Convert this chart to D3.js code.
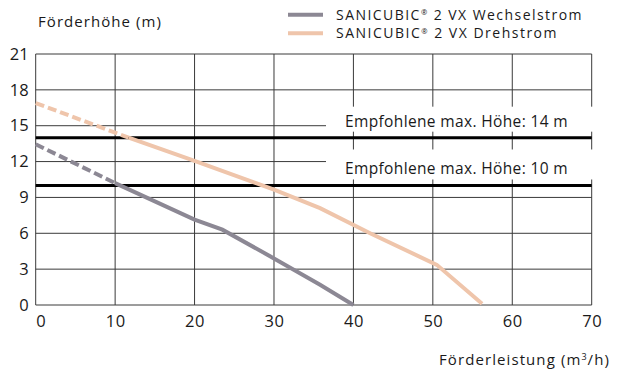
<!DOCTYPE html>
<html><head><meta charset="utf-8">
<script src="https://cdn.jsdelivr.net/npm/d3@7/dist/d3.min.js"></script>
<style>body{margin:0;background:#fff}svg{display:block}text{font-family:"Open Sans",sans-serif;fill:#1a1a1a}</style>
</head><body>
<script>
// Data
const xTicks = [0, 10, 20, 30, 40, 50, 60, 70];
const yTicks = [0, 3, 6, 9, 12, 15, 18, 21];
const wechselX = [0, 10, 20, 23.5, 30, 35.8, 40];
const wechselY = [13.45, 10.2, 7.14, 6.3, 3.9, 1.7, 0];
const wechselDashedUntil = 10;
const drehX = [0, 11.7, 20, 30, 35.8, 42.1, 50.5, 56.2];
const drehY = [16.9, 14.0, 12.05, 9.66, 8.1, 6.0, 3.36, 0.1];
const drehDashedUntil = 11.7;
const refValues = [14, 10];
const refLabels = ["Empfohlene max. Höhe: 14 m", "Empfohlene max. Höhe: 10 m"];
const seriesBrand = ["SANICUBIC", "SANICUBIC"];
const seriesRest = [" 2 VX Wechselstrom", " 2 VX Drehstrom"];
const colors = ["#8c8894", "#efc5ab"];

const W = 618, H = 370;
const svg = d3.select("body").append("svg").attr("width", W).attr("height", H);
const x = d3.scaleLinear().domain([0, 70]).range([35.7, 591.7]);
const y = d3.scaleLinear().domain([0, 21]).range([305, 54]);

// stretch text horizontally (letter-spacing) to match the wide reference font
function fit(sel, target) {
  const node = sel.node();
  const n = node.textContent.length;
  const len = node.getComputedTextLength();
  sel.attr("letter-spacing", ((target - len) / n).toFixed(3));
  return sel;
}

// grid
const g = svg.append("g");
g.selectAll("line.v").data(xTicks).join("line")
  .attr("x1", d => x(d)).attr("x2", d => x(d)).attr("y1", y(0)).attr("y2", y(21))
  .attr("stroke", "#3a3a3a").attr("stroke-width", 1);
g.selectAll("line.h").data(yTicks).join("line")
  .attr("x1", x(0)).attr("x2", x(70)).attr("y1", d => y(d)).attr("y2", d => y(d))
  .attr("stroke", "#3a3a3a").attr("stroke-width", 1);

// axes labels
const xAxis = d3.axisBottom(x).tickValues(xTicks).tickSize(0).tickPadding(10);
svg.append("g").attr("transform", `translate(0,${y(0)})`).call(xAxis)
  .call(a => a.select(".domain").remove())
  .selectAll("text").attr("font-size", 16.5).attr("font-family", '"Open Sans",sans-serif')
  .attr("fill", "#1a1a1a").attr("dx", d => d === 0 ? 5 : 0).attr("letter-spacing", 0.5);
const yAxis = d3.axisLeft(y).tickValues(yTicks).tickSize(0).tickPadding(7);
svg.append("g").attr("transform", `translate(${x(0)},0)`).call(yAxis)
  .call(a => a.select(".domain").remove())
  .selectAll("text").attr("font-size", 16.5).attr("font-family", '"Open Sans",sans-serif')
  .attr("fill", "#1a1a1a");

// reference label boxes
refValues.forEach((v, i) => {
  svg.append("rect").attr("x", 326).attr("y", y(v) - (i === 0 ? 31 : 36)).attr("width", 269).attr("height", i === 0 ? 25 : 30).attr("fill", "#fff");
  const t = svg.append("text").attr("x", 345).attr("y", y(v) - 11).attr("font-size", 15.5).text(refLabels[i]);
  fit(t, 223);
});
// reference lines
svg.selectAll("line.ref").data(refValues).join("line")
  .attr("x1", x(0)).attr("x2", x(70)).attr("y1", d => y(d)).attr("y2", d => y(d))
  .attr("stroke", "#000").attr("stroke-width", 3);

// curves
function drawSeries(xs, ys, until, color) {
  const pts = xs.map((d, i) => [d, ys[i]]);
  const dashed = pts.filter(p => p[0] <= until);
  const solid = pts.filter(p => p[0] >= until);
  const line = d3.line().x(p => x(p[0])).y(p => y(p[1]));
  svg.append("path").attr("d", line(dashed)).attr("fill", "none").attr("stroke", color)
    .attr("stroke-width", 4).attr("stroke-dasharray", "9,4");
  svg.append("path").attr("d", line(solid)).attr("fill", "none").attr("stroke", color)
    .attr("stroke-width", 4);
}
drawSeries(wechselX, wechselY, wechselDashedUntil, colors[0]);
drawSeries(drehX, drehY, drehDashedUntil, colors[1]);

// legend
const legendWidths = [247, 222];
seriesBrand.forEach((b, i) => {
  const ly = 14.7 + i * 18.6;
  svg.append("line").attr("x1", 288).attr("x2", 323).attr("y1", ly).attr("y2", ly)
    .attr("stroke", colors[i]).attr("stroke-width", 4);
  const t = svg.append("text").attr("x", 336).attr("y", ly + 4.8).attr("font-size", 14);
  t.append("tspan").text(b);
  t.append("tspan").text("®").attr("font-size", 7.5).attr("dy", -4.5);
  t.append("tspan").text(seriesRest[i]).attr("dy", 4.5);
  fit(t, legendWidths[i]);
});

// titles
fit(svg.append("text").attr("x", 38).attr("y", 27).attr("font-size", 15).text("Förderhöhe (m)"), 124);
const xt = svg.append("text").attr("x", 439).attr("y", 365).attr("font-size", 15);
xt.append("tspan").text("Förderleistung (m");
xt.append("tspan").text("3").attr("font-size", 9).attr("dy", -5);
xt.append("tspan").text("/h)").attr("dy", 5);
fit(xt, 171);
</script>
</body></html>
